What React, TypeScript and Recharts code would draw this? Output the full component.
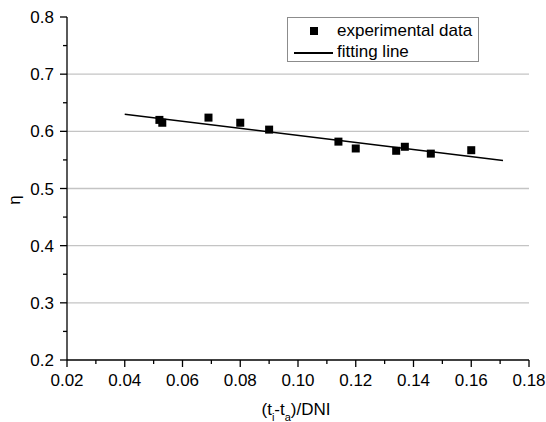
import React from 'react';
import { ScatterChart, Scatter, XAxis, YAxis, ReferenceLine, Legend, Label } from 'recharts';

// experimental points
const expX = [0.052, 0.053, 0.069, 0.080, 0.090, 0.114, 0.120, 0.134, 0.137, 0.146, 0.160];
const expY = [0.620, 0.615, 0.624, 0.615, 0.603, 0.582, 0.570, 0.566, 0.573, 0.561, 0.567];

// fitted line end points
const fitX = [0.04, 0.171];
const fitY = [0.630, 0.549];

const xMajor = [0.02, 0.04, 0.06, 0.08, 0.10, 0.12, 0.14, 0.16, 0.18];
const xMinor = [0.03, 0.05, 0.07, 0.09, 0.11, 0.13, 0.15, 0.17];
const yMajor = [0.2, 0.3, 0.4, 0.5, 0.6, 0.7, 0.8];
const yMinor = [0.25, 0.35, 0.45, 0.55, 0.65, 0.75];
const gridY = [0.3, 0.4, 0.5, 0.6, 0.7];

const expData = expX.map((x, i) => ({ x, y: expY[i] }));
const fitData = fitX.map((x, i) => ({ x, y: fitY[i] }));

const FONT = '"Liberation Sans", Arial, sans-serif';
const FS = 17;
const TICK = 7;
const MINOR = 4;

const isIn = (arr: number[], v: number) => arr.some((a) => Math.abs(a - v) < 1e-6);

const XTick = (props: any) => {
  const { x, y, payload } = props;
  const ay = y - TICK;
  const major = isIn(xMajor, payload.value);
  return (
    <g>
      <line x1={x} x2={x} y1={ay} y2={ay + (major ? TICK : MINOR)} stroke="#000" strokeWidth={1.3} />
      {major && (
        <text x={x} y={ay + 26} textAnchor="middle" fontSize={FS} fontFamily={FONT} fill="#000">
          {payload.value.toFixed(2)}
        </text>
      )}
    </g>
  );
};

const YTick = (props: any) => {
  const { x, y, payload } = props;
  const ax = x + TICK;
  const major = isIn(yMajor, payload.value);
  return (
    <g>
      <line x1={ax - (major ? TICK : MINOR)} x2={ax} y1={y} y2={y} stroke="#000" strokeWidth={1.3} />
      {major && (
        <text x={ax - 13} y={y + 6} textAnchor="end" fontSize={FS} fontFamily={FONT} fill="#000">
          {payload.value.toFixed(1)}
        </text>
      )}
    </g>
  );
};

const Square = (props: any) => {
  const { cx, cy } = props;
  return <rect x={cx - 4} y={cy - 4} width={8} height={8} fill="#000" />;
};

const NoShape = () => <g />;

const LegendBox = () => (
  <div
    style={{
      width: 190,
      height: 43,
      border: '1px solid #8c8c8c',
      background: '#fff',
      fontFamily: FONT,
      fontSize: FS,
      color: '#000',
      position: 'relative',
    }}
  >
    <div style={{ position: 'absolute', left: 22, top: 9, width: 8, height: 8, background: '#000' }} />
    <div style={{ position: 'absolute', left: 49, top: 3, lineHeight: '20px', whiteSpace: 'nowrap' }}>
      experimental data
    </div>
    <div style={{ position: 'absolute', left: 6, top: 34, width: 39, height: 1.5, background: '#000' }} />
    <div style={{ position: 'absolute', left: 49, top: 24, lineHeight: '20px', whiteSpace: 'nowrap' }}>
      fitting line
    </div>
  </div>
);

const XLabel = (props: any) => {
  const { viewBox } = props;
  const cx = viewBox.x + viewBox.width / 2 - 2;
  const by = viewBox.y + 55;
  return (
    <text x={cx} y={by} textAnchor="middle" fontSize={FS} fontFamily={FONT} fill="#000">
      (t<tspan fontSize={11} dy={6}>i</tspan>
      <tspan dy={-6}>-t</tspan>
      <tspan fontSize={11} dy={6}>a</tspan>
      <tspan dy={-6}>)/DNI</tspan>
    </text>
  );
};

const YLabel = () => (
  <text x={20} y={200} transform="rotate(-90 20 200)" textAnchor="middle" fontSize={FS} fontFamily={FONT} fill="#000">
    η
  </text>
);

export default function App() {
  return (
    <div style={{ position: 'absolute', left: 0, top: 0, width: 546, height: 422, background: '#fff' }}>
      <ScatterChart width={546} height={422} margin={{ top: 17, right: 17, left: 0, bottom: 0 }}>
        {gridY.map((v) => (
          <ReferenceLine key={v} y={v} stroke="#c4c4c4" strokeWidth={1.3} />
        ))}
        <XAxis
          type="number"
          dataKey="x"
          domain={[0.02, 0.18]}
          ticks={[...xMajor, ...xMinor]}
          interval={0}
          tickSize={TICK}
          tickMargin={0}
          tickLine={false}
          tick={<XTick />}
          height={62}
          axisLine={{ stroke: '#000', strokeWidth: 1.3 }}
          allowDataOverflow
        >
          <Label content={<XLabel />} />
        </XAxis>
        <YAxis
          type="number"
          dataKey="y"
          domain={[0.2, 0.8]}
          ticks={[...yMajor, ...yMinor]}
          interval={0}
          tickSize={TICK}
          tickMargin={0}
          tickLine={false}
          tick={<YTick />}
          width={67}
          axisLine={{ stroke: '#000', strokeWidth: 1.3 }}
          allowDataOverflow
        >
          <Label content={<YLabel />} />
        </YAxis>
        <Scatter
          name="fitting line"
          data={fitData}
          line={{ stroke: '#000', strokeWidth: 1.5 }}
          shape={<NoShape />}
          isAnimationActive={false}
        />
        <Scatter name="experimental data" data={expData} shape={<Square />} isAnimationActive={false} />
        <Legend
          layout="horizontal"
          verticalAlign="middle"
          align="center"
          content={<LegendBox />}
          wrapperStyle={{ left: 287, top: 17, width: 192, height: 45 }}
        />
      </ScatterChart>
    </div>
  );
}
